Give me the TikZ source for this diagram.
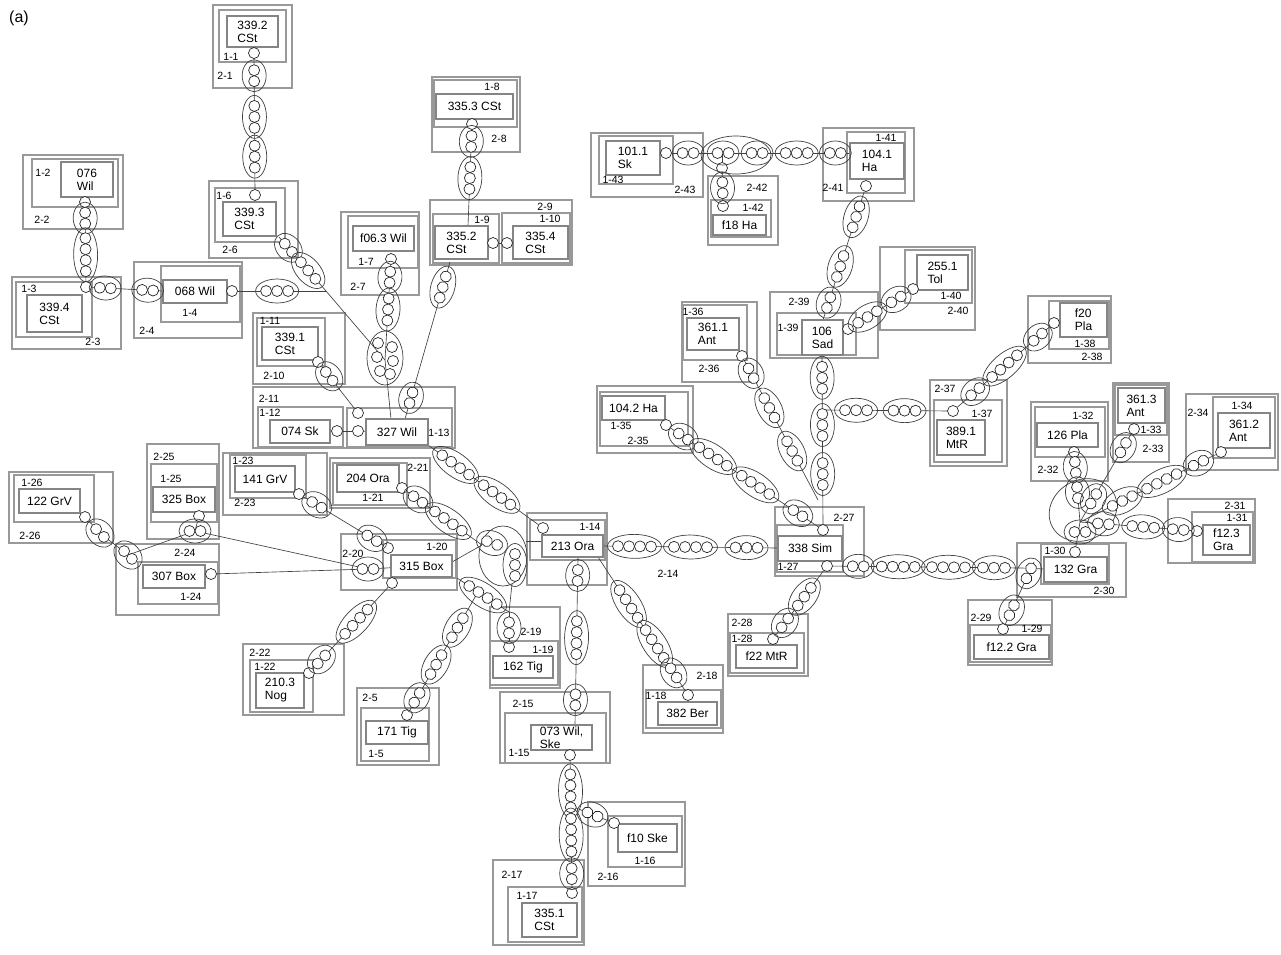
\documentclass[tikz,border=0pt]{standalone}
\usepackage{fontspec}
\setmainfont{Liberation Sans}
\pgfdeclarelayer{bg}\pgfdeclarelayer{lines}
\pgfsetlayers{bg,lines,main}
\newcommand\FS{\fontsize{12}{13}\selectfont}
\newcommand\FL{\fontsize{10.5}{11.5}\selectfont}
\tikzset{
 ob/.style={draw=black!40, line width=1.2pt},
 tb/.style={draw=black!48, line width=1.3pt, fill=white, rectangle, inner sep=1pt, align=left, font=\FS},
 lab/.style={font=\FL, inner sep=0pt},
 sc/.style={circle, draw=black!85, fill=white, line width=0.7pt, minimum size=11pt, inner sep=0pt},
 cl/.style={draw=black!75, line width=0.65pt},
 gell/.style={draw=black!75, line width=0.7pt},
 gcir/.style={draw=black!85, fill=white, line width=0.7pt},
}
\makeatletter
\newcommand\Grp[4]{%
  \begin{scope}[shift={(#1pt,#2pt)}, rotate=#3]
    \pgfmathsetmacro\gA{(#4-1)*5.5+10.5}%
    \draw[gell] (0pt,0pt) ellipse [x radius=\gA pt, y radius=12pt];
    \foreach \gK in {1,...,#4}{\pgfmathsetmacro\gX{(\gK-(#4+1)/2)*11}\draw[gcir] (\gX pt,0pt) circle [radius=5.5pt];}
  \end{scope}}
\newcommand\GrpXY[4]{\Grp{#1}{-#2}{#3}{#4}}
\newcommand\ChainP[3]{%
  \begin{pgfonlayer}{lines}\draw[cl] (#1) -- (#2);\end{pgfonlayer}%
  \pgfpointanchor{#1}{center}\edef\chAx{\the\pgf@x}\edef\chAy{\the\pgf@y}%
  \pgfpointanchor{#2}{center}\edef\chBx{\the\pgf@x}\edef\chBy{\the\pgf@y}%
  \pgfmathsetmacro\chDx{\chBx-\chAx}\pgfmathsetmacro\chDy{\chBy-\chAy}%
  \pgfmathsetmacro\chAng{atan2(\chDy,\chDx)}%
  \foreach \chT/\chN in {#3}{%
    \pgfmathsetmacro\chPx{\chAx+\chT*\chDx}\pgfmathsetmacro\chPy{\chAy+\chT*\chDy}%
    \Grp{\chPx}{\chPy}{\chAng}{\chN}}%
}
\makeatother
\newcommand\SBox[4]{\begin{pgfonlayer}{bg}\draw[ob] (#1,#2) rectangle (#3,#4);\end{pgfonlayer}}
\newcommand\TBox[6]{\node[tb, minimum width={(#4-#2)*1pt}, minimum height={(#5-#3)*1pt}] (#1) at ({(#2+#4)/2},{(#3+#5)/2}) {#6};}
\newcommand\Lab[4]{\node[lab] (#1) at (#2,#3) {#4};}
\newcommand\Ln[2]{\begin{pgfonlayer}{lines}\draw[cl] (#1) -- (#2);\end{pgfonlayer}}
\begin{document}
\begin{tikzpicture}[x=1pt,y=-1pt]
\begin{pgfonlayer}{bg}\fill[white] (0,0) rectangle (1281,954);\end{pgfonlayer}
\useasboundingbox (0,0) rectangle (1281,954);
\node[font=\fontsize{16}{18}\selectfont, inner sep=0pt] (title) at (19,18) {(a)};

% ---- Site 1
\SBox{213}{5}{292}{88}\SBox{219}{10}{286}{62}
\TBox{t1}{227}{16}{278}{47}{339.2\\CSt}
\Lab{a1}{231}{57}{1-1}\Lab{b1}{225}{76}{2-1}
\node[sc] (c1) at (254,53) {};
% ---- Site 6
\SBox{209}{181}{298}{258}\SBox{215}{188}{285}{242}
\TBox{t6}{223}{202}{276}{236}{339.3\\CSt}
\Lab{a6}{224}{196}{1-6}\Lab{b6}{230}{250}{2-6}
\node[sc] (c6) at (255,195) {};
\coordinate (c6b) at (279,237);
% ---- Site 2
\SBox{23}{155}{123}{229}\SBox{32}{159}{118}{207}
\TBox{t2}{61}{162}{113}{197}{076\\Wil}
\Lab{a2}{43}{173}{1-2}\Lab{b2}{42}{220}{2-2}
\node[sc] (c2) at (85,202) {};
% ---- Site 3
\SBox{12}{277}{121}{349}\SBox{16}{282}{92}{337}
\TBox{t3}{27}{295}{82}{332}{339.4\\CSt}
\Lab{a3}{29}{289}{1-3}\Lab{b3}{93}{342}{2-3}
\node[sc] (c3) at (86,287) {};
% ---- Site 4
\SBox{134}{262}{242}{338}\SBox{161}{266}{240}{322}
\TBox{t4}{163}{280}{227}{303}{068 Wil}
\Lab{a4}{190}{313}{1-4}\Lab{b4}{147}{331}{2-4}
\node[sc] (c4) at (232,291) {};
\coordinate (c4w) at (163,291);
\coordinate (jA) at (326,291);
% ---- Site 7
\SBox{341}{212}{419}{295}\SBox{348}{216}{418}{268}
\TBox{t7}{353}{226}{414}{251}{f06.3 Wil}
\Lab{a7}{366}{262}{1-7}\Lab{b7}{358}{287}{2-7}
\node[sc] (c7) at (391,259) {};
% ---- Site 8
\SBox{432}{77}{520}{152}\SBox{434}{80}{517}{127}
\TBox{t8}{436}{94}{513}{119}{335.3 CSt}
\Lab{a8}{492}{87}{1-8}\Lab{b8}{499}{139}{2-8}
\node[sc] (c8) at (472,124) {};
% ---- Site 9/10
\SBox{430}{200}{572}{265}\Lab{b9}{545}{207}{2-9}
\SBox{433}{214}{499}{263}
\TBox{t9}{435}{226}{488}{259}{335.2\\CSt}
\Lab{a9}{482}{220}{1-9}
\SBox{502}{213}{570}{263}
\TBox{t10}{513}{226}{568}{259}{335.4\\CSt}
\Lab{a10}{550}{219}{1-10}
\node[sc] (c9) at (493,243) {};
\node[sc] (c10) at (507,243) {};
\Ln{c9}{c10}
\coordinate (c9t) at (468,226);
\coordinate (c9b) at (450,262);
% ---- Site 11
\SBox{253}{313}{345}{384}\SBox{257}{318}{325}{366}
\TBox{t11}{262}{327}{318}{360}{339.1\\CSt}
\Lab{a11}{270}{321}{1-11}\Lab{b10}{274}{376}{2-10}
\node[sc] (c11) at (318,362) {};
% ---- Site 12/13
\SBox{253}{387}{455}{448}\Lab{b11}{269}{399}{2-11}
\SBox{258}{407}{343}{447}\Lab{a12}{270}{413}{1-12}
\TBox{t12}{270}{420}{330}{443}{074 Sk}
\node[sc] (c12) at (337,431) {};
\SBox{347}{408}{452}{447}
\TBox{t13}{366}{419}{428}{445}{327 Wil}
\Lab{a13}{439}{433}{1-13}
\node[sc] (c13a) at (358,413) {};
\node[sc] (c13b) at (358,431) {};
\Ln{c12}{c13b}\Ln{c13b}{t13}
\coordinate (e13t) at (391,419);
\coordinate (e13r) at (405,419);
\coordinate (s13) at (428,445);
% ---- Site 14
\SBox{527}{513}{607}{585}\SBox{530}{520}{605}{560}
\TBox{t14}{542}{535}{603}{557}{213 Ora}
\Lab{a14}{590}{527}{1-14}
\node[sc] (c14) at (543,528) {};
\coordinate (s14a) at (578,557);
\coordinate (s14b) at (598,557);
\coordinate (s14r) at (603,546);
\coordinate (s14w) at (542,541);
% ---- Site 20
\SBox{341}{534}{457}{590}\Lab{b20}{353}{554}{2-20}
\SBox{383}{540}{456}{578}\Lab{a20}{437}{547}{1-20}
\TBox{t20}{391}{555}{452}{577}{315 Box}
\node[sc] (c20a) at (388,548) {};
\node[sc] (c20b) at (392,583) {};
\coordinate (g20) at (368,569);
\coordinate (s20r) at (452,562);
\coordinate (s20br) at (457,578);
% ---- Site 21
\SBox{330}{458}{430}{508}\SBox{333}{463}{407}{505}
\TBox{t21}{337}{465}{399}{492}{204 Ora}
\Lab{b21}{418}{468}{2-21}\Lab{a21}{373}{498}{1-21}
\node[sc] (c21) at (402,488) {};
% ---- hub near 213 Ora
\coordinate (hOw) at (482,545);
\coordinate (hOe) at (526,541);
\coordinate (hOs) at (512,584);
\draw[gell] (503,556) ellipse [x radius=24pt, y radius=30pt];
\Ln{s20r}{hOw}\Ln{hOe}{s14w}
% ---- Site 19
\SBox{490}{607}{560}{688}\SBox{490}{641}{558}{685}
\TBox{t19}{493}{656}{553}{678}{162 Tig}
\Lab{b19}{531}{632}{2-19}\Lab{a19}{543}{650}{1-19}
\node[sc] (c19) at (509,647) {};
\coordinate (k19) at (509,612);
\Ln{hOs}{k19}
% ---- Site 5
\SBox{357}{688}{439}{765}\SBox{361}{708}{429}{761}
\TBox{t5}{366}{721}{428}{744}{171 Tig}
\Lab{b5}{370}{698}{2-5}\Lab{a5}{376}{754}{1-5}
\node[sc] (c5) at (407,715) {};
\coordinate (j5) at (478,592);
% ---- Site 22
\SBox{243}{644}{344}{715}\SBox{250}{660}{313}{712}
\TBox{t22}{256}{673}{304}{708}{210.3\\Nog}
\Lab{b22}{260}{653}{2-22}\Lab{a22}{265}{667}{1-22}
\node[sc] (c22) at (309,673) {};
% ---- Site 23
\SBox{223}{453}{327}{515}\SBox{230}{455}{306}{498}
\TBox{t23}{235}{466}{295}{492}{141 GrV}
\Lab{a23}{243}{461}{1-23}\Lab{b23}{245}{503}{2-23}
\node[sc] (c23) at (299,494) {};
% ---- Site 25
\SBox{147}{444}{219}{539}\SBox{151}{464}{217}{522}
\TBox{t25}{153}{487}{215}{512}{325 Box}
\Lab{b25}{164}{457}{2-25}\Lab{a25}{171}{479}{1-25}
\node[sc] (c25) at (199,516) {};
\coordinate (g25) at (195,531);
% ---- Site 26
\SBox{9}{472}{113}{543}\SBox{14}{475}{94}{522}
\TBox{t26}{19}{489}{80}{513}{122 GrV}
\Lab{a26}{32}{483}{1-26}\Lab{b26}{30}{536}{2-26}
\node[sc] (c26) at (85,517) {};
\coordinate (g26) at (100,533);
\coordinate (g24) at (128,555);
% ---- Site 24
\SBox{116}{544}{219}{615}\SBox{138}{562}{218}{604}
\TBox{t24}{143}{565}{205}{588}{307 Box}
\Lab{b24}{185}{553}{2-24}\Lab{a24}{191}{597}{1-24}
\node[sc] (c24) at (211,574) {};
\Ln{c26}{g26}\Ln{g26}{g24}\Ln{g24}{g25}\Ln{g25}{g20}\Ln{c25}{g25}\Ln{c24}{g20}\Ln{g20}{t20}
\GrpXY{100}{533}{-45}{2}
\GrpXY{128}{555}{-45}{2}
\GrpXY{195}{531}{0}{2}
\GrpXY{368}{569}{0}{2}
% ---- Site 15
\SBox{500}{692}{610}{763}\SBox{505}{713}{606}{763}
\TBox{t15}{531}{725}{592}{750}{073 Wil,\\Ske}
\Lab{b15}{523}{704}{2-15}\Lab{a15}{519}{753}{1-15}
\node[sc] (c15) at (570,755) {};
\coordinate (t15t) at (575,725);
\coordinate (j16) at (571,806);
% ---- Site 16
\SBox{588}{802}{685}{886}\SBox{608}{816}{682}{867}
\TBox{t16}{618}{824}{677}{852}{f10 Ske}
\Lab{b16}{608}{877}{2-16}\Lab{a16}{645}{861}{1-16}
\node[sc] (c16) at (614,823) {};
% ---- Site 17
\SBox{493}{860}{584}{945}\SBox{508}{887}{582}{942}
\TBox{t17}{522}{903}{577}{937}{335.1\\CSt}
\Lab{b17}{512}{875}{2-17}\Lab{a17}{527}{896}{1-17}
\node[sc] (c17) at (572,893) {};
% ---- Site 18
\SBox{643}{665}{723}{733}\SBox{646}{690}{721}{728}
\TBox{t18}{658}{702}{717}{725}{382 Ber}
\Lab{b18}{707}{676}{2-18}\Lab{a18}{656}{696}{1-18}
\node[sc] (c18) at (688,695) {};
% ---- Site 27
\SBox{775}{507}{864}{576}\Lab{b27}{844}{518}{2-27}
\SBox{777}{525}{843}{572}
\TBox{t27}{778}{536}{842}{561}{338 Sim}
\Lab{a27}{788}{567}{1-27}
\node[sc] (c27a) at (823,530) {};
\node[sc] (c27b) at (827,566) {};
\coordinate (s27w) at (778,548);
\Lab{b14}{668}{574}{2-14}
% ---- Site 28
\SBox{728}{614}{808}{676}\Lab{b28}{742}{623}{2-28}
\SBox{730}{633}{804}{673}\Lab{a28}{742}{639}{1-28}
\TBox{t28}{736}{645}{797}{668}{f22 MtR}
\node[sc] (c28) at (773,639) {};
% ---- Site 30
\SBox{1017}{543}{1126}{597}\SBox{1041}{544}{1109}{584}
\TBox{t30}{1044}{557}{1107}{582}{132 Gra}
\Lab{a30}{1055}{551}{1-30}\Lab{b30}{1104}{591}{2-30}
\node[sc] (c30) at (1075,552) {};
\coordinate (j30) at (1022,568);
\coordinate (s30w) at (1044,569);
\coordinate (k30) at (1034,562);
\Ln{j30}{s30w}
% ---- Site 29
\SBox{968}{600}{1052}{665}\SBox{970}{625}{1051}{662}
\TBox{t29}{974}{635}{1049}{659}{f12.2 Gra}
\Lab{a29}{1032}{629}{1-29}\Lab{b29}{981}{618}{2-29}
\node[sc] (c29) at (1003,629) {};
% ---- Site 31
\SBox{1168}{499}{1255}{563}\SBox{1192}{512}{1253}{562}
\TBox{t31}{1203}{525}{1250}{555}{f12.3\\Gra}
\Lab{b31}{1235}{506}{2-31}\Lab{a31}{1237}{518}{1-31}
\node[sc] (c31) at (1197,531) {};
% ---- Site 32
\SBox{1031}{402}{1108}{481}\SBox{1035}{407}{1105}{457}
\TBox{t32}{1037}{423}{1098}{447}{126 Pla}
\Lab{a32}{1083}{416}{1-32}\Lab{b32}{1048}{470}{2-32}
\node[sc] (c32) at (1074,452) {};
% ---- Site 33
\SBox{1113}{383}{1169}{462}\SBox{1115}{385}{1167}{435}
\TBox{t33}{1118}{388}{1165}{423}{361.3\\Ant}
\Lab{a33}{1151}{430}{1-33}\Lab{b33}{1153}{449}{2-33}
\node[sc] (c33) at (1134,429) {};
% ---- Site 34
\SBox{1186}{394}{1278}{470}\SBox{1213}{397}{1275}{458}
\TBox{t34}{1218}{413}{1270}{448}{361.2\\Ant}
\Lab{a34}{1242}{406}{1-34}\Lab{b34}{1198}{413}{2-34}
\node[sc] (c34) at (1221,452) {};
% ---- hub near 132 Gra
\coordinate (hG) at (1080,522);
\draw[gell, rotate around={30:(1083,510)}] (1083,510) ellipse [x radius=35pt, y radius=30pt];
\Ln{hG}{c30}
% ---- Site 37
\SBox{930}{380}{1007}{466}\Lab{b37}{945}{389}{2-37}
\SBox{934}{400}{1002}{462}
\TBox{t37}{937}{420}{985}{455}{389.1\\MtR}
\Lab{a37}{982}{414}{1-37}
\node[sc] (c37) at (953,411) {};
% ---- Site 38
\SBox{1028}{296}{1111}{363}\SBox{1049}{301}{1109}{349}
\TBox{t38}{1060}{303}{1107}{337}{f20\\Pla}
\Lab{a38}{1085}{344}{1-38}\Lab{b38}{1092}{357}{2-38}
\node[sc] (c38) at (1054,323) {};
% ---- Site 39
\SBox{770}{292}{878}{358}\Lab{b39}{799}{302}{2-39}
\SBox{777}{313}{856}{355}
\TBox{t39}{802}{320}{843}{355}{106\\Sad}
\Lab{a39}{788}{328}{1-39}
\node[sc] (c39) at (848,329) {};
\coordinate (s39t) at (823,320);
\coordinate (s39b) at (822,355);
\coordinate (j37) at (822,410);
\coordinate (j27) at (818,500);
% ---- Site 40
\SBox{880}{247}{975}{330}\SBox{905}{250}{972}{303}
\TBox{t40}{917}{255}{968}{290}{255.1\\Tol}
\Lab{a40}{951}{296}{1-40}\Lab{b40}{958}{311}{2-40}
\node[sc] (c40) at (913,289) {};
% ---- Site 41
\SBox{823}{128}{914}{201}\SBox{847}{132}{905}{193}
\TBox{t41}{850}{143}{904}{179}{104.1\\Ha}
\Lab{a41}{886}{138}{1-41}\Lab{b41}{833}{188}{2-41}
\node[sc] (c41) at (866,186) {};
\coordinate (s41w) at (850,153);
% ---- Site 42
\SBox{708}{176}{778}{245}\SBox{711}{200}{771}{237}
\TBox{t42}{713}{215}{766}{235}{f18 Ha}
\Lab{b42}{757}{188}{2-42}\Lab{a42}{753}{208}{1-42}
\node[sc] (c42) at (723,206) {};
\node[sc] (j42) at (722,168) {};
\coordinate (j42t) at (722,153);
\Ln{j42t}{j42}
% ---- Site 43
\SBox{591}{133}{703}{197}\SBox{599}{136}{673}{184}
\TBox{t43}{606}{141}{660}{175}{101.1\\Sk}
\Lab{a43}{613}{180}{1-43}\Lab{b43}{685}{190}{2-43}
\node[sc] (c43) at (666,153) {};
\draw[gell] (736,155) ellipse [x radius=35pt, y radius=19pt];
% ---- Site 36
\SBox{682}{302}{757}{382}\SBox{683}{305}{747}{360}
\TBox{t36}{687}{318}{739}{350}{361.1\\Ant}
\Lab{a36}{693}{312}{1-36}\Lab{b36}{709}{369}{2-36}
\node[sc] (c36) at (742,356) {};
% ---- Site 35
\SBox{597}{386}{693}{453}\SBox{600}{392}{688}{446}
\TBox{t35}{602}{396}{665}{420}{104.2 Ha}
\Lab{a35}{621}{426}{1-35}\Lab{b35}{638}{441}{2-35}
\node[sc] (c35) at (666,425) {};

% ---- cluster above 327 Wil
\coordinate (jB) at (385,360);
\Ln{jA}{jB}\Ln{jB}{e13t}
\draw[gell] (385,358) ellipse [x radius=18pt, y radius=27pt];
\foreach \q in {(378,343),(377,357),(380,371),(392,347),(393,361),(390,374)}{\draw[gcir] \q circle [radius=5.5pt];}

% ---- chains
\ChainP{c1}{c6}{0.16/2,0.45/3,0.73/3}
\ChainP{c2}{c3}{0.19/2,0.62/4}
\ChainP{c3}{c4w}{0.25/2,0.8/2}
\ChainP{c4}{jA}{0.48/3}
\ChainP{c6b}{jA}{0.2/2,0.62/3}
\ChainP{c7}{jB}{0.18/2,0.5/3}
\ChainP{c8}{c9t}{0.17/2,0.53/3}
\ChainP{c9b}{e13r}{0.16/3,0.865/2}
\ChainP{c11}{c13a}{0.28/2}
\ChainP{s13}{c14}{0.24/4,0.6/4}
\ChainP{c21}{hOw}{0.2/2,0.58/4}
\GrpXY{492}{543}{-20}{2}
\GrpXY{515}{565}{90}{3}
\ChainP{s20br}{k19}{0.5/4}
\ChainP{k19}{c19}{0.45/2}
\ChainP{j5}{c5}{0.29/3,0.59/3,0.86/2}
\ChainP{c20b}{c22}{0.43/4,0.85/2}
\ChainP{c23}{c20a}{0.2/2,0.82/2}
\ChainP{s14a}{t15t}{0.11/2,0.48/4,0.85/2}
\ChainP{c15}{c17}{0.26/4,0.58/4,0.86/2}
\ChainP{j16}{c16}{0.5/2}
\ChainP{s14b}{c18}{0.34/4,0.63/4,0.84/2}
\ChainP{s14r}{s27w}{0.18/4,0.5/4,0.82/3}
\ChainP{c27b}{j30}{0.16/2,0.365/4,0.623/4,0.856/3}
\ChainP{k30}{c29}{0.17/2,0.72/2}
\ChainP{c27b}{c28}{0.42/3,0.78/2}
\ChainP{c32}{hG}{0.22/2,0.58/2}
\ChainP{c33}{hG}{0.2/2,0.75/2}
\ChainP{hG}{c34}{0.3/3,0.58/4,0.84/2}
\ChainP{hG}{c31}{0.2/2,0.54/3,0.84/2}
\GrpXY{1080}{532}{0}{2}
\ChainP{c37}{c38}{0.22/2,0.51/4,0.84/2}
\ChainP{c41}{s39t}{0.23/3,0.6/3,0.87/2}
\ChainP{c39}{c40}{0.3/3,0.74/2}
\ChainP{s39b}{c27a}{0.13/3,0.4/3,0.68/3}
\ChainP{j37}{c37}{0.26/3,0.63/3}
\ChainP{c36}{j27}{0.12/2,0.36/3,0.66/3}
\ChainP{c35}{c27a}{0.11/2,0.3/4,0.57/4,0.84/2}
\ChainP{c43}{s41w}{0.12/2,0.31/2,0.495/2,0.71/3,0.92/2}
\ChainP{j42}{c42}{0.52/2}
\end{tikzpicture}
\end{document}
